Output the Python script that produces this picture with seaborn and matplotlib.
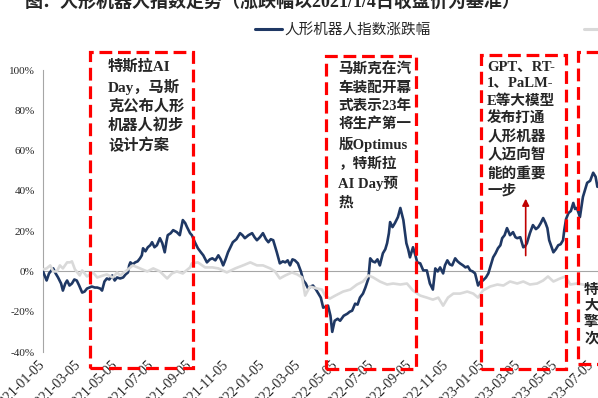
import numpy as np
import pandas as pd
import seaborn as sns
import matplotlib
matplotlib.use("Agg")
import matplotlib.pyplot as plt
from matplotlib.patches import Rectangle
from matplotlib.lines import Line2D

# Data: calendar days after 2021-01-05, change in % vs 2021/1/4 close
START = pd.Timestamp("2021-01-05")

robot_days = [0, 4, 6, 10, 14, 17, 21, 25, 30, 33, 37, 40, 44, 48, 52, 56, 60, 65, 69, 73,
              77, 81, 86, 90, 95, 98, 102, 106, 110, 115, 119, 123, 128, 133, 137, 141, 143, 145,
              149, 153, 157, 161, 164, 166, 170, 174, 178, 181, 185, 189, 194, 198, 202, 205,
              207, 212, 216, 222, 227, 232, 236, 239, 244, 247, 252, 257, 262, 266, 272, 277,
              281, 286, 291, 295, 299, 303, 307, 311, 315, 321, 327, 331, 335, 341, 347, 351,
              355, 360, 365, 370, 374, 378, 382, 388, 393, 398, 402, 406, 410, 414, 418, 423,
              428, 432, 436, 440, 444, 448, 453, 457, 461, 465, 469, 473, 477, 480, 484, 489,
              493, 499, 505, 509, 513, 518, 522, 526, 531, 535, 540, 543, 547, 551, 555, 559,
              564, 568, 571, 574, 576, 580, 584, 589, 593, 598, 603, 606, 609, 614, 618, 621,
              626, 631, 637, 642, 647, 651, 655, 659, 664, 667, 671, 675, 679, 684, 688, 692,
              697, 701, 705, 709, 713, 717, 722, 726, 730, 735, 739, 743, 747, 751, 755, 759,
              762, 766, 770, 775, 780, 784, 787, 792, 797, 800, 803, 808, 813, 818, 822, 826,
              830, 834, 837, 840, 844, 847, 851, 855, 859, 863, 865, 868, 872, 876, 880, 883,
              886, 891, 896, 900, 903, 908, 913, 917, 920]
robot_pct = [0, -3, -4.5, -1, 0.5, 1.5, -1, -3, -6, -9.5, -6, -4.5, -7, -6, -4, -4.5, -7, -10.5, -10, -8.5,
             -8, -7.5, -8, -8, -8.5, -9.5, -5, -3.5, -4, -2, -4.5, -3, -3.5, -3, -1.5, -0.5, 3, 4.5,
             3.5, 4.5, 5, 6.5, 8, 11.5, 10, 12, 13, 14.5, 12, 13, 16.5, 14, 9.5, 15,
             18, 19, 20.5, 19.5, 18, 25.5, 24, 22, 19, 18, 14.5, 11.5, 9.5, 8, 4.5, 6,
             6.5, 5.5, 8, 6, 3, 6, 9.5, 12, 14.5, 16, 19, 18, 16.5, 18, 19, 17,
             15.5, 17, 19, 16, 14.5, 16, 15.5, 9.5, 4, 5, 4.5, 5.5, 3, 6, 5.5, 4,
             0, -4.5, -6, -8.5, -7.5, -7, -9, -11, -13, -18, -17.5, -17, -22, -30, -24.5, -23.5,
             -24.5, -22, -21, -20, -19.5, -16, -16.5, -13, -11, -8, -3.5, 6.5, 5, 4.5, 6, 3,
             9, 11, 14, 19, 24.5, 22, 24, 27, 31.5, 25.5, 14, 11, 7, 12, 8, 4.5,
             4, 0.5, 0.5, -6, -9, 1.5, 0, 2, -1, 3, 5.5, 3.5, 3, 6.5, 5, 4,
             3, 2, 2.5, 0.5, 0, -1, -7, -5, -4.5, -3, -1, 3, 7, 9, 11.5, 13,
             16.5, 18, 21.5, 18, 19.5, 17, 16.5, 17, 12, 12.5, 14, 19, 23, 21, 22, 24,
             26.5, 24, 21.5, 15.5, 12, 9.5, 11, 13, 13.5, 15.5, 20.5, 26, 29, 30, 34, 31,
             31.5, 27, 37, 41, 44, 45, 49, 47, 42]

hs300_days = [0, 6, 12, 17, 23, 28, 33, 40, 45, 48, 53, 61, 65, 73, 83, 90, 95, 100, 106, 116,
              123, 128, 139, 149, 161, 173, 183, 194, 206, 214, 222, 232, 244, 247, 257, 269,
              281, 291, 305, 319, 332, 344, 355, 365, 377, 385, 393, 402, 413, 422, 430, 435,
              443, 455, 463, 468, 476, 485, 498, 510, 521, 531, 540, 548, 559, 571, 581, 593,
              604, 614, 626, 637, 647, 656, 664, 672, 681, 692, 704, 714, 722, 730, 742, 754,
              764, 775, 787, 797, 808, 820, 830, 838, 847, 858, 867, 875, 886, 896, 908, 920]
hs300_pct = [1, 1.5, 3, 0, 0, 3, 1.5, 4.5, 4.5, 5, 1, -2, 0.5, -2.5, -0.5, -3, -2.5, -2, -1.5, -3,
             -0.5, -2, 0.5, 3, 1.5, 0, 1.5, 0, -3.5, -1, 0, -1, 2, 4, 4.5, 2,
             2, 1.5, -0.5, 1.5, 3, 4.5, 3, 3, 1.5, 0, -3.5, -2, -0.5, -1.5, -3, -12,
             -7.5, -8.5, -9, -12, -13.5, -12, -10, -9, -6.5, -5, -2, -3, -5, -6.5, -6, -6.5,
             -6, -9.5, -12, -13, -14, -13, -17, -13, -11, -11, -10, -11, -13, -9.5, -7.5, -6.5,
             -7, -5, -6, -5, -6.5, -6, -4.5, -2.5, -5, -3.5, -2.5, -6.5, -6, -6.5, -7, -6]

tick_dates = pd.date_range("2021-01-05", "2023-07-05", freq=pd.DateOffset(months=2))
y_ticks = [-40, -20, 0, 20, 40, 60, 80, 100]

title = "图：人形机器人指数走势（涨跌幅以2021/1/4日收盘价为基准）"
series_names = ["人形机器人指数涨跌幅", "沪深300涨跌幅"]

# annotation boxes: (left date, right date, top %, bottom %)
boxes = [("2021-03-24", "2021-09-11", 108.8, -47.7),
         ("2022-04-20", "2022-09-16", 106.9, -48.2),
         ("2023-01-02", "2023-05-23", 107.4, -48.2),
         ("2023-06-12", "2023-08-10", 108.8, -46.2)]
# (left date, top %, text, font size, line spacing)
notes = [("2021-04-23", 105.4, "特斯拉AI\nDay，马斯\n克公布人形\n机器人初步\n设计方案", 11, 1.38),
         ("2022-05-10", 103.6, "马斯克在汽\n车装配开幕\n式表示23年\n将生产第一\n版Optimus\n，特斯拉\nAI Day预\n热", 10.5, 1.43),
         ("2023-01-12", 104.6, "GPT、RT-\n1、PaLM-\nE等大模型\n发布打通\n人形机器\n人迈向智\n能的重要\n一步", 10.5, 1.36),
         ("2023-06-22", -6, "特\n大\n擎\n次", 10.5, 1.3)]

BLUE = "#1f3864"
GREY = "#d9d9d9"
MIX = ["Liberation Serif", "Noto Sans CJK SC"]

sns.set_style("white")
plt.rcParams["font.family"] = MIX

robot = pd.DataFrame({"date": START + pd.to_timedelta(robot_days, unit="D"), "pct": robot_pct})
hs300 = pd.DataFrame({"date": START + pd.to_timedelta(hs300_days, unit="D"), "pct": hs300_pct})

fig = plt.figure(figsize=(5.98, 3.98), dpi=100)
ax = fig.add_axes([43 / 598, 46 / 398, 555 / 598, 282 / 398])

sns.lineplot(data=robot, x="date", y="pct", ax=ax, color=BLUE, linewidth=1.9, zorder=3)
sns.lineplot(data=hs300, x="date", y="pct", ax=ax, color=GREY, linewidth=1.9, zorder=4)

ax.set_xlim(START, START + pd.Timedelta(days=921))
ax.set_ylim(-40, 100)
ax.set_xlabel("")
ax.set_ylabel("")

ax.set_yticks(y_ticks)
ax.set_yticklabels([f"{v}%" for v in y_ticks], fontsize=8, family="Liberation Serif")
ax.set_xticks(tick_dates)
ax.set_xticklabels([d.strftime("%Y-%m-%d") for d in tick_dates], fontsize=8,
                   family="Liberation Serif")

for side in ["top", "right"]:
    ax.spines[side].set_visible(False)
ax.spines["left"].set_color("#a6a6a6")
ax.spines["left"].set_linewidth(0.8)
ax.spines["bottom"].set_position(("data", 0))
ax.spines["bottom"].set_color("#a6a6a6")
ax.spines["bottom"].set_linewidth(0.8)
ax.tick_params(axis="y", direction="in", length=2.5, width=0.8, color="#a6a6a6", pad=6)
ax.tick_params(axis="x", direction="in", length=2.5, width=0.8, color="#a6a6a6", pad=66,
               labelrotation=45)
for lab in ax.get_xticklabels():
    lab.set_ha("right")
    lab.set_va("center")
    lab.set_rotation_mode("anchor")
ax.grid(False)

for left, right, top, bottom in boxes:
    x0 = pd.Timestamp(left)
    x1 = pd.Timestamp(right)
    ax.add_patch(Rectangle((x0, bottom), x1 - x0, top - bottom, fill=False,
                           edgecolor="#ff0000", linewidth=2.3,
                           linestyle=(0, (4, 1.8)), clip_on=False, zorder=5))

for left, top, text, size, spacing in notes:
    ax.text(pd.Timestamp(left), top, text, fontsize=size, fontweight="bold",
            family=MIX, va="top", ha="left", linespacing=spacing, zorder=6,
            clip_on=False)

ax.annotate("", xy=(pd.Timestamp("2023-03-17"), 37.5), xytext=(pd.Timestamp("2023-03-17"), 6.5),
            arrowprops=dict(arrowstyle="-|>", color="#c00000", lw=1.2,
                            mutation_scale=10), zorder=6)

fig.text(25 / 598, 1 - 12 / 398, title, fontsize=13, fontweight="bold",
         family=MIX, va="bottom", ha="left")

handles = [Line2D([], [], color=BLUE, linewidth=2.2), Line2D([], [], color=GREY, linewidth=2.2)]
fig.legend(handles, series_names, loc="center left", bbox_to_anchor=(255 / 598, 1 - 30 / 398),
           ncol=2, frameon=False, handlelength=1.85, handletextpad=0.15,
           columnspacing=10.5, borderpad=0, borderaxespad=0,
           prop={"family": ["Noto Sans CJK SC"], "size": 10.5})

fig.savefig("out.png", dpi=100)
